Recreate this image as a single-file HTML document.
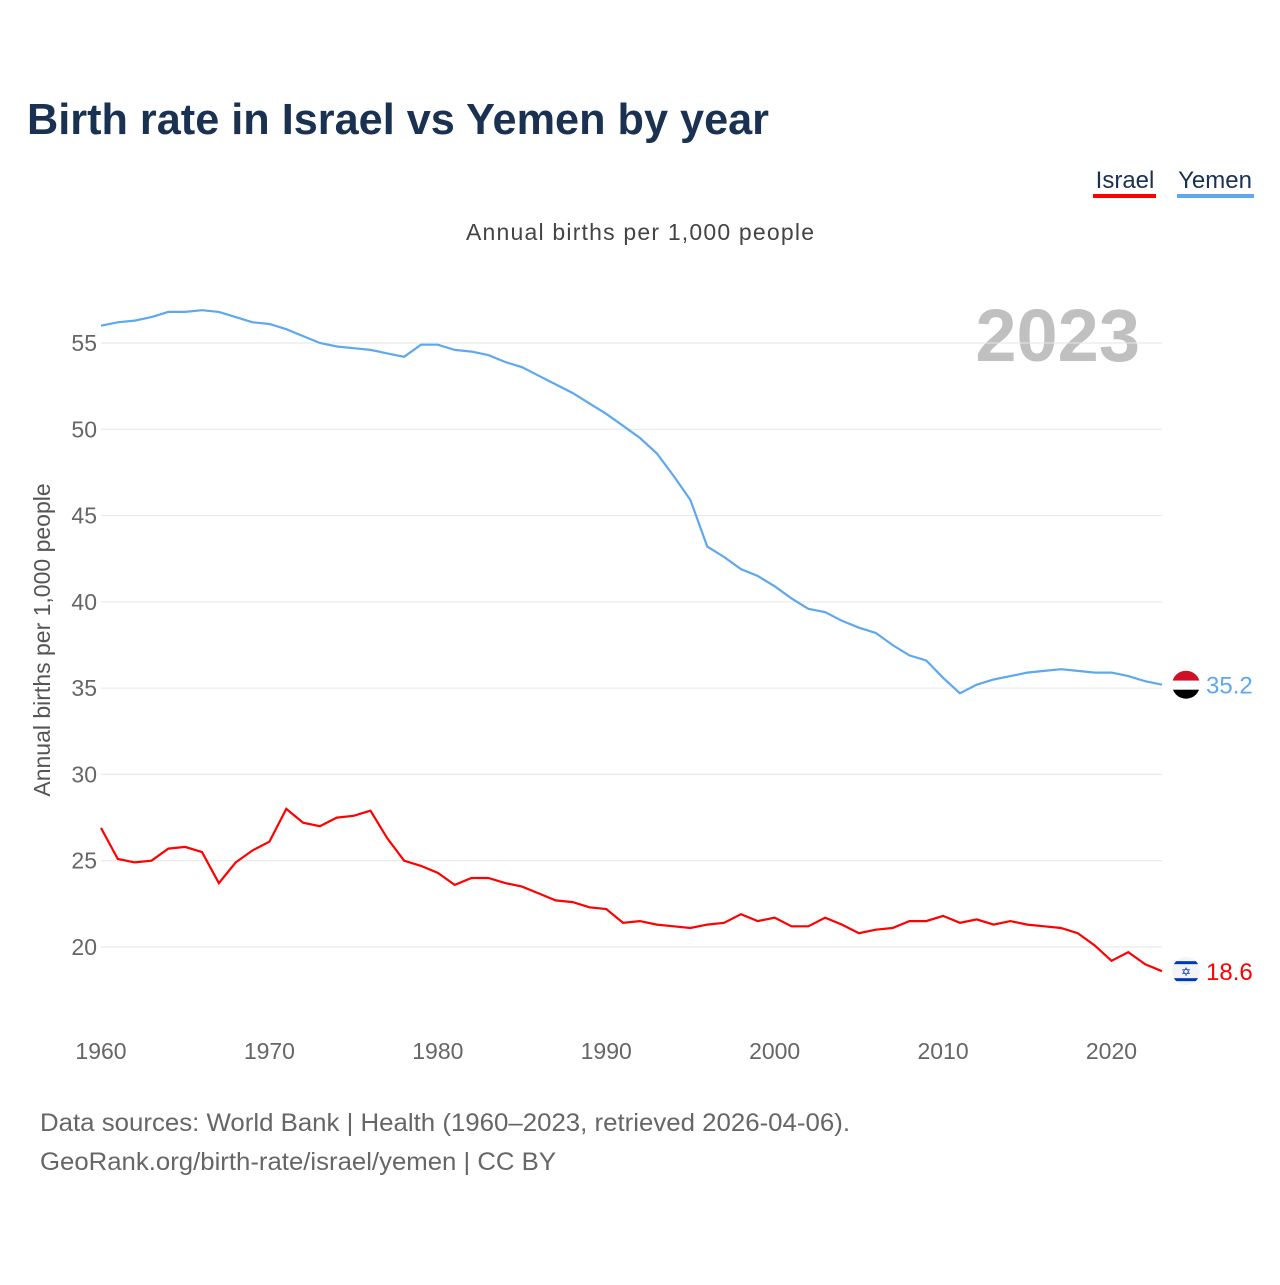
<!DOCTYPE html>
<html><head><meta charset="utf-8">
<style>
body{margin:0;background:#fff;font-family:"Liberation Sans",sans-serif;}
svg text{font-family:"Liberation Sans",sans-serif;}
</style></head>
<body>
<svg id="chart" width="1280" height="1280" viewBox="0 0 1280 1280">
<text x="27" y="134" font-size="44" font-weight="bold" fill="#1a3152" textLength="742" lengthAdjust="spacingAndGlyphs">Birth rate in Israel vs Yemen by year</text>
<g>
<text x="1125" y="188" font-size="24" fill="#1a3152" text-anchor="middle">Israel</text>
<rect x="1093" y="194" width="63" height="4" fill="#ff0000"/>
<text x="1215" y="188" font-size="24" fill="#1a3152" text-anchor="middle">Yemen</text>
<rect x="1177" y="194" width="77" height="4" fill="#5ea8ee"/>
</g>
<text x="640" y="240" font-size="23" fill="#444" text-anchor="middle" textLength="348">Annual births per 1,000 people</text>
<text x="1140" y="361" font-size="74" font-weight="bold" fill="#c0c0c0" text-anchor="end">2023</text>
<text transform="translate(50,640) rotate(-90)" font-size="23" fill="#555" text-anchor="middle">Annual births per 1,000 people</text>
<g id="grid"></g><g id="yt"></g><g id="xt"></g><g id="lines"></g><g id="ends"></g>
<text x="40" y="1131" font-size="25" fill="#666" textLength="810" lengthAdjust="spacingAndGlyphs">Data sources: World Bank | Health (1960–2023, retrieved 2026-04-06).</text>
<text x="40" y="1170" font-size="25" fill="#666" textLength="516" lengthAdjust="spacingAndGlyphs">GeoRank.org/birth-rate/israel/yemen | CC BY</text>
</svg>
<script>
const years=[];for(let y=1960;y<=2023;y++)years.push(y);
const yemen=[56.0,56.2,56.3,56.5,56.8,56.8,56.9,56.8,56.5,56.2,56.1,55.8,55.4,55.0,54.8,54.7,54.6,54.4,54.2,54.9,54.9,54.6,54.5,54.3,53.9,53.6,53.1,52.6,52.1,51.5,50.9,50.2,49.5,48.6,47.3,45.9,43.2,42.6,41.9,41.5,40.9,40.2,39.6,39.4,38.9,38.5,38.2,37.5,36.9,36.6,35.6,34.7,35.2,35.5,35.7,35.9,36.0,36.1,36.0,35.9,35.9,35.7,35.4,35.2];
const israel=[26.9,25.1,24.9,25.0,25.7,25.8,25.5,23.7,24.9,25.6,26.1,28.0,27.2,27.0,27.5,27.6,27.9,26.3,25.0,24.7,24.3,23.6,24.0,24.0,23.7,23.5,23.1,22.7,22.6,22.3,22.2,21.4,21.5,21.3,21.2,21.1,21.3,21.4,21.9,21.5,21.7,21.2,21.2,21.7,21.3,20.8,21.0,21.1,21.5,21.5,21.8,21.4,21.6,21.3,21.5,21.3,21.2,21.1,20.8,20.1,19.2,19.7,19.0,18.6];
const yTicks=[20,25,30,35,40,45,50,55];
const xTicks=[1960,1970,1980,1990,2000,2010,2020];
const NS="http://www.w3.org/2000/svg";
const X=y=>101+(y-1960)*(1162-101)/63;
const Y=v=>947-(v-20)*(604/35);
function mk(t,a,p){const e=document.createElementNS(NS,t);for(const k in a)e.setAttribute(k,a[k]);p.appendChild(e);return e;}
const g=document.getElementById('grid'),yt=document.getElementById('yt'),xt=document.getElementById('xt');
yTicks.forEach(v=>{
 const l=mk('line',{x1:101,x2:1162,y1:Y(v),y2:Y(v),stroke:'#e6e6e6','stroke-width':1},g);
 
 
 const t=mk('text',{x:97,y:Y(v)+8,'font-size':23,fill:'#666','text-anchor':'end'},yt);t.textContent=v;
 
 
});
xTicks.forEach(v=>{
 const t=mk('text',{x:X(v),y:1059,'font-size':23,fill:'#666','text-anchor':'middle'},xt);t.textContent=v;
 
 
});
const L=document.getElementById('lines');
[[yemen,'#5ea8ee','yemen'],[israel,'#ff0000','israel']].forEach(([d,c,n])=>{
 const p=mk('path',{d:d.map((v,i)=>(i?'L':'M')+X(years[i]).toFixed(1)+','+Y(v).toFixed(1)).join(''),fill:'none',stroke:c,'stroke-width':2.2},L);
 
 
});
const E=document.getElementById('ends');
const yv=yemen[yemen.length-1],iv=israel[israel.length-1];
let fy=Y(yv),fi=Y(iv);
const defs=mk('defs',{},E);
const c1=mk('clipPath',{id:'cy'},defs);mk('circle',{cx:1186,cy:fy,r:14},c1);
const c2=mk('clipPath',{id:'ci'},defs);mk('circle',{cx:1186,cy:fi,r:14},c2);
let gy=mk('g',{'clip-path':'url(#cy)'},E);


mk('rect',{x:1172,y:fy-14,width:28,height:10,fill:'#ce1126'},gy);
mk('rect',{x:1172,y:fy-4,width:28,height:9,fill:'#fff'},gy);
mk('rect',{x:1172,y:fy+5,width:28,height:10,fill:'#000'},gy);
let ty=mk('text',{x:1206,y:fy+9,'font-size':24,fill:'#5ea8ee'},E);ty.textContent=yv.toFixed(1);


let gi=mk('g',{'clip-path':'url(#ci)'},E);


mk('rect',{x:1172,y:fi-14,width:28,height:28,fill:'#f4f4f4'},gi);
mk('rect',{x:1172,y:fi-10,width:28,height:3,fill:'#0038b8'},gi);
mk('rect',{x:1172,y:fi+7,width:28,height:3,fill:'#0038b8'},gi);
let st=mk('text',{x:1186,y:fi+5,'font-size':12,fill:'#0038b8','text-anchor':'middle'},gi);st.textContent='✡';
let ti=mk('text',{x:1206,y:fi+9,'font-size':24,fill:'#ff0000'},E);ti.textContent=iv.toFixed(1);


</script>
</body></html>
